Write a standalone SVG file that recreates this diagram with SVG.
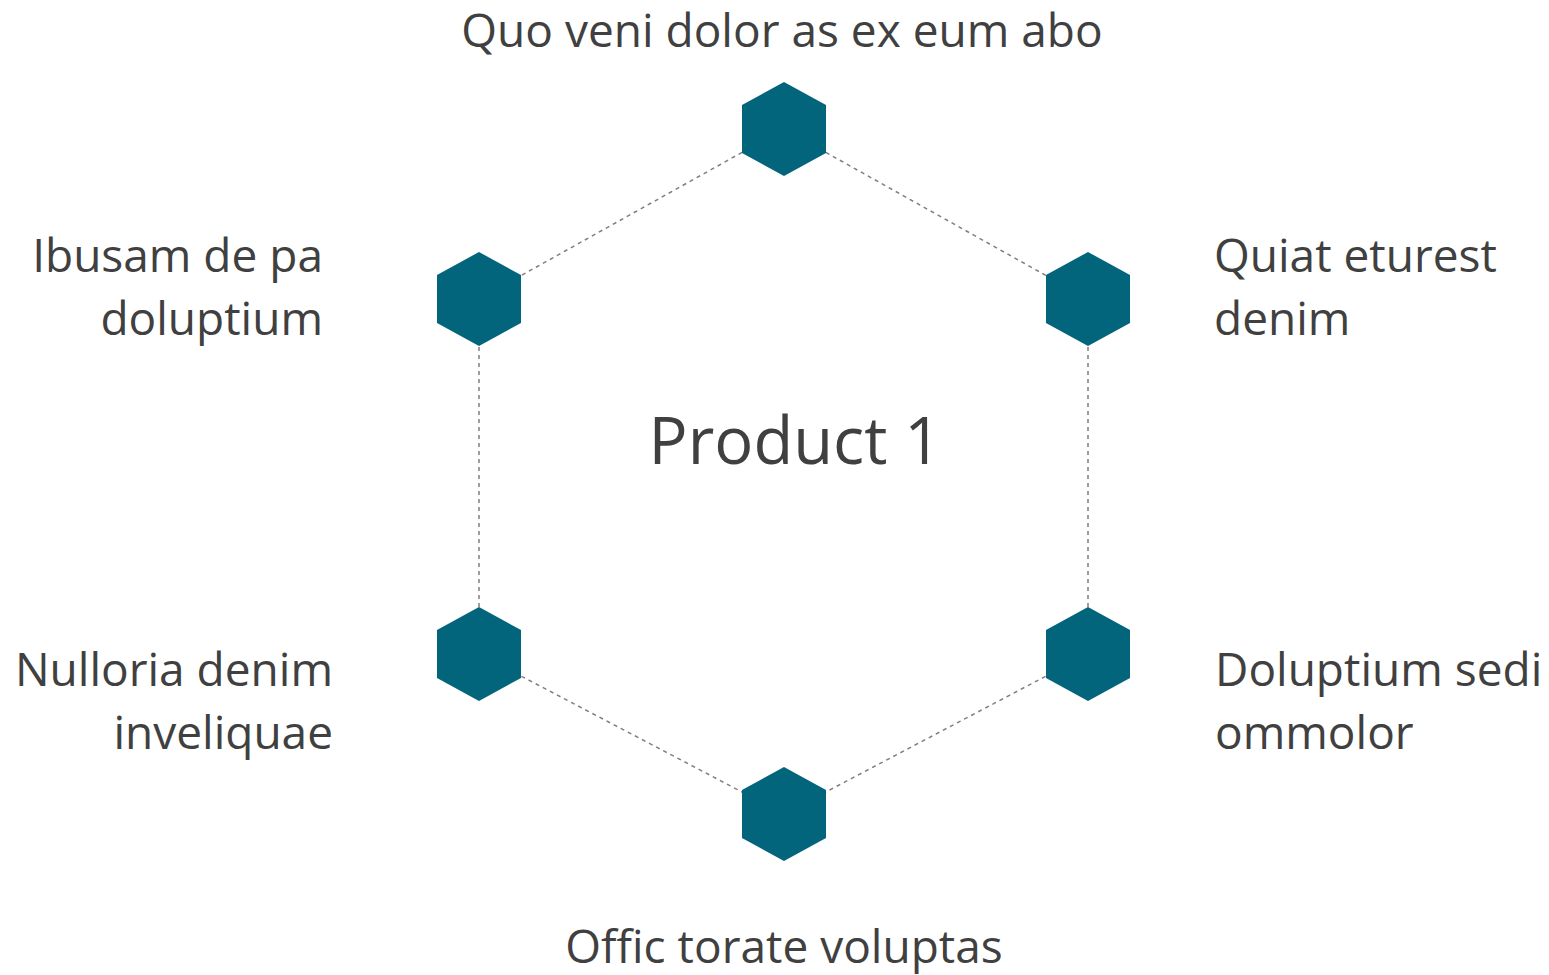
<svg xmlns="http://www.w3.org/2000/svg" width="1549" height="975" viewBox="0 0 1549 975">
<style>
.hex{fill:#03657C;}
.conn{stroke:#7F7F7F;stroke-width:1.5;stroke-dasharray:4 4;fill:none;}
.lbl{font-family:"Open Sans","Noto Sans",sans-serif;font-size:46px;fill:#404040;}
.title{font-family:"Open Sans","Noto Sans",sans-serif;font-size:65px;fill:#404040;}
</style>
<defs>
<polygon id="hx" points="0,-47 42,-24 42,24 0,47 -42,24 -42,-24"/>
</defs>
<rect width="1549" height="975" fill="#FFFFFF"/>
<g id="connectors">
<line class="conn" x1="784" y1="129" x2="479" y2="299"/>
<line class="conn" x1="784" y1="129" x2="1088" y2="299"/>
<line class="conn" x1="479" y1="299" x2="479" y2="654"/>
<line class="conn" x1="1088" y1="299" x2="1088" y2="654"/>
<line class="conn" x1="479" y1="654" x2="784" y2="814"/>
<line class="conn" x1="1088" y1="654" x2="784" y2="814"/>
</g>
<g id="center"><text class="title" x="795" y="464" text-anchor="middle">Product 1</text></g>
<g id="node-top"><use href="#hx" class="hex" x="784" y="129"/><text class="lbl" x="782" y="47" text-anchor="middle">Quo veni dolor as ex eum abo</text></g>
<g id="node-upper-left"><use href="#hx" class="hex" x="479" y="299"/><text class="lbl" text-anchor="end"><tspan x="323" y="272">Ibusam de pa</tspan><tspan x="323" y="335">doluptium</tspan></text></g>
<g id="node-upper-right"><use href="#hx" class="hex" x="1088" y="299"/><text class="lbl"><tspan x="1214" y="272">Quiat eturest</tspan><tspan x="1214" y="335">denim</tspan></text></g>
<g id="node-lower-left"><use href="#hx" class="hex" x="479" y="654"/><text class="lbl" text-anchor="end"><tspan x="333" y="686">Nulloria denim</tspan><tspan x="333" y="749">inveliquae</tspan></text></g>
<g id="node-lower-right"><use href="#hx" class="hex" x="1088" y="654"/><text class="lbl"><tspan x="1215" y="686">Doluptium sedi</tspan><tspan x="1215" y="749">ommolor</tspan></text></g>
<g id="node-bottom"><use href="#hx" class="hex" x="784" y="814"/><text class="lbl" x="784" y="963" text-anchor="middle">Offic torate voluptas</text></g>
</svg>
